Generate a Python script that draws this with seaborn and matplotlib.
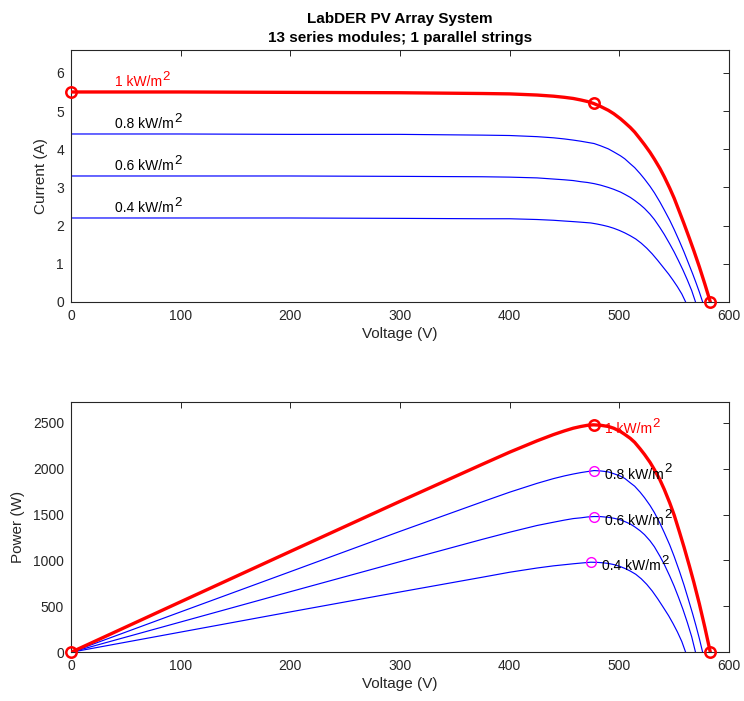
import matplotlib
matplotlib.use("Agg")
import numpy as np
import pandas as pd
import seaborn as sns
import matplotlib.pyplot as plt

# I-V characteristics of the array at four irradiance levels (kW/m^2)
irradiance = [1.0, 0.8, 0.6, 0.4]

v_10 = [0, 100, 200, 300, 375, 400, 425, 440, 450, 458, 465, 471, 476.5, 483,
        490, 495, 501, 505, 510, 514, 519, 523, 528, 532, 537, 541, 546, 550,
        555, 559, 564, 568, 573, 578, 583]
i_10 = [5.50, 5.50, 5.49, 5.48, 5.46, 5.45, 5.42, 5.39, 5.36, 5.33, 5.29, 5.25,
        5.20, 5.12, 5.02, 4.93, 4.80, 4.70, 4.57, 4.45, 4.27, 4.12, 3.92, 3.74,
        3.50, 3.28, 2.98, 2.72, 2.35, 2.05, 1.66, 1.34, 0.92, 0.47, 0.0]

v_08 = [0, 100, 200, 300, 375, 400, 425, 440, 450, 458, 465, 471, 477, 483,
        490, 495, 501, 505, 510, 514, 519, 523, 528, 532, 537, 541, 546, 550,
        555, 559, 563, 567, 570, 573, 576]
i_08 = [4.40, 4.40, 4.39, 4.39, 4.37, 4.36, 4.33, 4.30, 4.27, 4.24, 4.21, 4.18,
        4.15, 4.09, 4.01, 3.93, 3.83, 3.75, 3.62, 3.52, 3.36, 3.22, 3.03, 2.86,
        2.62, 2.41, 2.14, 1.90, 1.58, 1.31, 1.02, 0.73, 0.50, 0.26, 0.0]

v_06 = [0, 100, 200, 300, 375, 400, 425, 440, 450, 458, 465, 471, 477, 483,
        490, 495, 501, 505, 510, 514, 519, 523, 528, 532, 537, 541, 546, 550,
        554, 558, 562, 566, 569.5]
i_06 = [3.30, 3.30, 3.30, 3.29, 3.28, 3.27, 3.25, 3.22, 3.20, 3.18, 3.15, 3.13,
        3.10, 3.06, 3.00, 2.95, 2.88, 2.82, 2.74, 2.66, 2.55, 2.45, 2.30, 2.16,
        1.95, 1.77, 1.52, 1.31, 1.08, 0.84, 0.58, 0.30, 0.0]

v_04 = [0, 100, 200, 300, 375, 400, 425, 440, 450, 458, 465, 474, 480, 485,
        490, 495, 500, 505, 510, 515, 520, 525, 530, 535, 540, 545, 549, 553,
        557, 560.5]
i_04 = [2.20, 2.20, 2.20, 2.19, 2.18, 2.18, 2.16, 2.14, 2.12, 2.105, 2.09, 2.07,
        2.04, 2.01, 1.975, 1.93, 1.875, 1.81, 1.735, 1.65, 1.54, 1.41, 1.26,
        1.09, 0.91, 0.73, 0.57, 0.40, 0.21, 0.0]

x_ticks = [0, 100, 200, 300, 400, 500, 600]
current_ticks = [0, 1, 2, 3, 4, 5, 6]
power_ticks = [0, 500, 1000, 1500, 2000, 2500]

title_text = "LabDER PV Array System\n13 series modules; 1 parallel strings"

curves = {1.0: (v_10, i_10), 0.8: (v_08, i_08), 0.6: (v_06, i_06), 0.4: (v_04, i_04)}
frames = []
for g in irradiance:
    v, i = curves[g]
    frames.append(pd.DataFrame({"irr": g, "V": v, "I": i}))
df = pd.concat(frames, ignore_index=True)
df["P"] = df["V"] * df["I"]

sns.set_style("white")
plt.rcParams["font.family"] = ["Liberation Sans", "DejaVu Sans"]

edge = "#262626"
fig = plt.figure(figsize=(7.44, 7.01), dpi=100)
ax1 = fig.add_axes([0.0954, 0.5692, 0.8844, 0.3595])
ax2 = fig.add_axes([0.0954, 0.0695, 0.8844, 0.3575])


def style(ax):
    for s in ax.spines.values():
        s.set_color(edge)
        s.set_linewidth(0.8)
    ax.tick_params(direction="in", top=True, right=True, length=4, width=0.7,
                   colors=edge, labelsize=10, pad=5)
    ax.set_xlim(0, 600)
    ax.set_xticks(x_ticks)


def irr_label(ax, x, y, g, color, va):
    # "<g> kW/m" followed by a raised exponent 2
    base = ax.text(x, y, f"{g:g} kW/m", color=color, fontsize=10,
                   ha="left", va=va)
    ax.annotate("2", xy=(1.0, 0.45), xycoords=base, xytext=(0.5, 0),
                textcoords="offset points", color=color, fontsize=9.5,
                ha="left", va="bottom")


for g in irradiance:
    sub = df[df["irr"] == g]
    big = g == 1.0
    col = "red" if big else "blue"
    lw = 2.4 if big else 0.85
    sns.lineplot(data=sub, x="V", y="I", ax=ax1, color=col, lw=lw,
                 sort=False, estimator=None, zorder=3 if big else 2)
    sns.lineplot(data=sub, x="V", y="P", ax=ax2, color=col, lw=lw,
                 sort=False, estimator=None, zorder=3 if big else 2)

    isc = sub["I"].iloc[0]
    mpp = sub.loc[sub["P"].idxmax()]
    txt_col = "red" if big else "black"
    irr_label(ax1, 40, isc + 0.08, g, txt_col, "bottom")
    irr_label(ax2, mpp["V"] + 10, mpp["P"] - 45, g, txt_col, "center")

    if big:
        ends = sub.iloc[[0, -1]]
        ax1.plot([ends["V"].iloc[0], mpp["V"], ends["V"].iloc[1]],
                 [ends["I"].iloc[0], mpp["I"], ends["I"].iloc[1]],
                 ls="none", marker="o", ms=7.5, mfc="none", mec="red",
                 mew=1.8, zorder=5, clip_on=False)
        ax2.plot([ends["V"].iloc[0], mpp["V"], ends["V"].iloc[1]],
                 [ends["P"].iloc[0], mpp["P"], ends["P"].iloc[1]],
                 ls="none", marker="o", ms=7.5, mfc="none", mec="red",
                 mew=1.8, zorder=5, clip_on=False)
    else:
        ax2.plot([mpp["V"]], [mpp["P"]], ls="none", marker="o", ms=7,
                 mfc="none", mec="magenta", mew=1.0, zorder=5)

style(ax1)
ax1.set_ylim(0, 6.6)
ax1.set_yticks(current_ticks)
ax1.set_xlabel("Voltage (V)", fontsize=11, color=edge, labelpad=3)
ax1.set_ylabel("Current (A)", fontsize=11, color=edge, labelpad=6)
ax1.set_title(title_text, fontsize=11, fontweight="bold", color="black",
              pad=6, linespacing=1.4)

style(ax2)
ax2.set_ylim(0, 2730)
ax2.set_yticks(power_ticks)
ax2.set_xlabel("Voltage (V)", fontsize=11, color=edge, labelpad=3)
ax2.set_ylabel("Power (W)", fontsize=11, color=edge, labelpad=6)

fig.savefig("out.png", dpi=100, facecolor="white")
